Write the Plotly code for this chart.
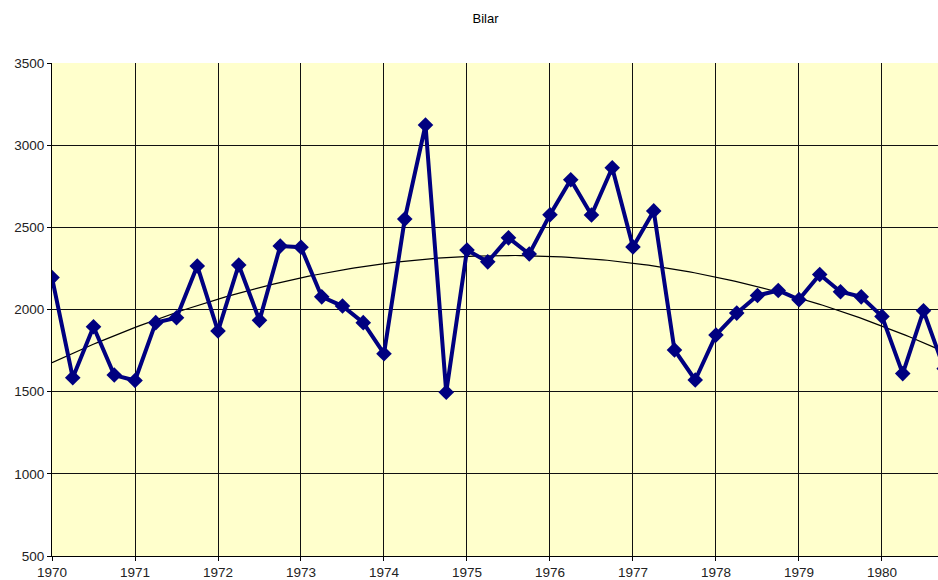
import numpy as np
import plotly.graph_objects as go

title = "Bilar"
start_year = 1970
quarters = [1970 + i * 0.25 for i in range(44)]
bilar = [2194, 1585, 1895, 1601, 1568, 1920, 1950, 2265,
         1869, 2271, 1934, 2386, 2379, 2077, 2021, 1920,
         1731, 2550, 3123, 1496, 2362, 2290, 2436, 2338,
         2577, 2790, 2575, 2863, 2381, 2600, 1754, 1571,
         1845, 1978, 2085, 2116, 2060, 2213, 2108, 2077,
         1958, 1610, 1992, 1640]
x_ticks = list(range(1970, 1981))
y_ticks = [500, 1000, 1500, 2000, 2500, 3000, 3500]

# polynomial (order 2) trendline, as in the original spreadsheet chart
coef = np.polyfit(np.array(quarters) - start_year, np.array(bilar), 2)
trend_x = np.linspace(1970, 1981, 200)
trend_y = np.polyval(coef, trend_x - start_year)

fig = go.Figure()
fig.add_trace(go.Scatter(
    x=trend_x, y=trend_y, mode="lines",
    line=dict(color="black", width=1.2),
    hoverinfo="skip", showlegend=False))
fig.add_trace(go.Scatter(
    x=quarters, y=bilar, mode="lines+markers",
    line=dict(color="#000080", width=4),
    marker=dict(symbol="diamond", size=12, color="#000080"),
    showlegend=False, cliponaxis=True))

fig.update_layout(
    width=938, height=580,
    margin=dict(l=52, r=0, t=63, b=24),
    paper_bgcolor="white",
    plot_bgcolor="#FFFFCC",
    font=dict(family="Liberation Sans, Arial, sans-serif", size=13.5, color="black"),
    title=dict(text=title, x=485.5 / 938, xref="container", xanchor="center",
               y=1 - 18 / 580, yref="container", yanchor="middle",
               font=dict(size=13, color="black")),
)
fig.update_xaxes(
    range=[1970, 1980.675], tickvals=x_ticks, ticktext=[str(v) for v in x_ticks],
    showgrid=True, gridcolor="#111111", gridwidth=1,
    ticks="outside", ticklen=4, tickcolor="black",
    showline=True, linecolor="black", linewidth=1,
    zeroline=False, tickfont=dict(size=13.5, color="#222222"))
fig.update_yaxes(
    range=[500, 3500], tickvals=y_ticks,
    showgrid=True, gridcolor="#111111", gridwidth=1,
    ticks="outside", ticklen=4, tickcolor="black",
    showline=True, linecolor="black", linewidth=1,
    zeroline=False, tickfont=dict(size=13.5, color="#222222"))

fig.write_html("out.html",
               config={"displayModeBar": False},
               post_script="document.body.style.margin='0';document.body.style.overflow='hidden';")
